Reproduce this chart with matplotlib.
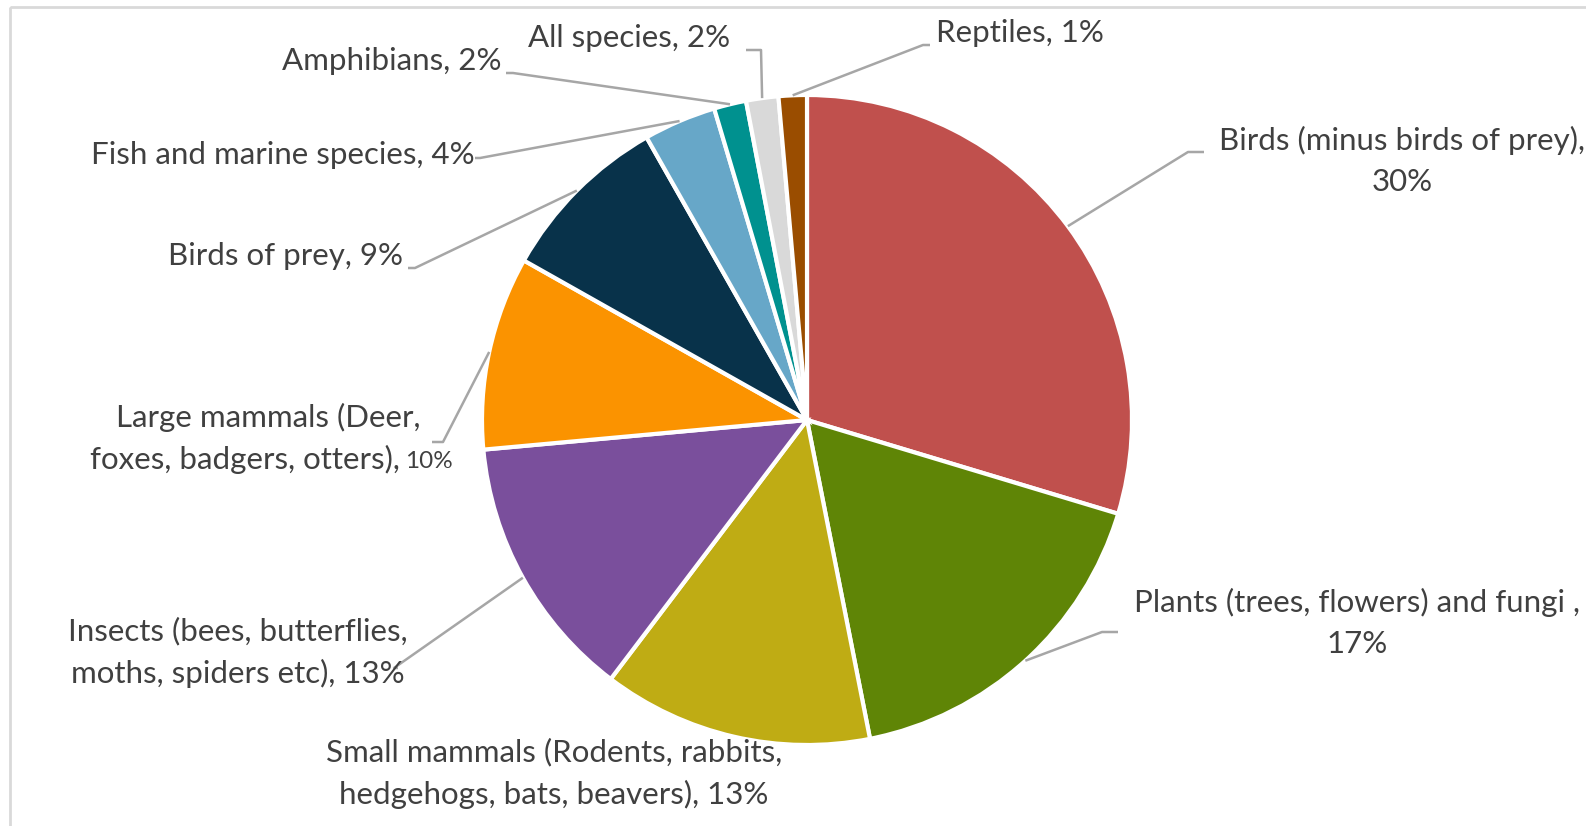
import numpy as np
import matplotlib
matplotlib.use('Agg')
from matplotlib import pyplot as plt
from matplotlib.patches import Rectangle

# data (share of records, %), clockwise from 12 o'clock
groups = ['Birds (minus birds of prey)', 'Plants (trees, flowers) and fungi ',
          'Small mammals (Rodents, rabbits, hedgehogs, bats, beavers)',
          'Insects (bees, butterflies, moths, spiders etc)',
          'Large mammals (Deer, foxes, badgers, otters)',
          'Birds of prey', 'Fish and marine species', 'Amphibians',
          'All species', 'Reptiles']
values = [29.6, 17.2, 13.4, 13.2, 9.6, 8.6, 3.6, 1.6, 1.6, 1.4]
colors = ['#C0504D', '#5F8506', '#BFAC14', '#7A4F9C', '#FB9300',
          '#08324A', '#67A7C8', '#00918F', '#D9D9D9', '#9A4D00']

# label text lines (where the name is wrapped in the chart)
label_lines = [
    ['Birds (minus birds of prey),', '{p}%'],
    ['Plants (trees, flowers) and fungi ,', '{p}%'],
    ['Small mammals (Rodents, rabbits,', 'hedgehogs, bats, beavers), {p}%'],
    ['Insects (bees, butterflies,', 'moths, spiders etc), {p}%'],
    ['Large mammals (Deer,'],
    ['Birds of prey, {p}%'],
    ['Fish and marine species, {p}%'],
    ['Amphibians, {p}%'],
    ['All species, {p}%'],
    ['Reptiles, {p}%'],
]

# layout (pixels): label anchor x, first line y, alignment, leader elbow points
lab_x = [1402, 1357, 554, 238, 268, 403, 475, 501, 730, 936]
lab_y = [140, 602, 752, 631, 417, 256, 155, 61, 38, 33]
lab_ha = ['center', 'center', 'center', 'center', 'center', 'right', 'right', 'right', 'right', 'left']
elbows = [[(1188, 152), (1204, 152)],
          [(1102, 632), (1118, 632)],
          None,
          [(394, 668), (398, 668)],
          [(443, 442), (432, 442)],
          [(415, 268), (408, 268)],
          [(480, 158), (475, 158)],
          [(513, 73), (506, 73)],
          [(761, 50), (746, 50)],
          [(923, 45), (930, 45)]]

W, H = 1586, 826
cx, cy, r = 807, 420, 325
txt = '#404040'
line_c = '#A6A6A6'
fs = 22.5

fig = plt.figure(figsize=(W / 100, H / 100), dpi=100)
ax = fig.add_axes([0, 0, 1, 1])
ax.set_xlim(0, W)
ax.set_ylim(H, 0)
ax.set_aspect('equal')
ax.axis('off')

# frame of the chart area (screenshot is cropped on the right and bottom)
ax.add_patch(Rectangle((10, 7), W + 50, H + 50, fill=False, ec='#D9D9D9', lw=2))

# y axis is inverted, so counterclock=True draws clockwise on screen
wedges, _ = ax.pie(values, colors=colors, startangle=-90, counterclock=True,
                   center=(cx, cy), radius=r, frame=True,
                   wedgeprops=dict(edgecolor='white', linewidth=3))
ax.set_xlim(0, W)
ax.set_ylim(H, 0)
ax.axis('off')

pcts = np.array(values) / sum(values) * 100
plt.rcParams['font.family'] = ['Lato', 'DejaVu Sans']
lh = 42
for i, w in enumerate(wedges):
    p = int(round(pcts[i]))
    lines = [s.format(p=p) for s in label_lines[i]]
    for k, s in enumerate(lines):
        ax.text(lab_x[i], lab_y[i] + k * lh, s, ha=lab_ha[i], va='center',
                fontsize=fs, color=txt, family='Lato')
    if i == 4:
        # second line of this label has a smaller percentage
        ax.text(400, lab_y[i] + lh, 'foxes, badgers, otters),', ha='right', va='center',
                fontsize=fs, color=txt, family='Lato')
        ax.text(405, lab_y[i] + lh + 2, '{}%'.format(p), ha='left', va='center',
                fontsize=fs - 5, color=txt, family='Lato')
    # leader line from the middle of the wedge edge
    if elbows[i] is not None:
        th = np.deg2rad((w.theta1 + w.theta2) / 2)
        x0 = cx + r * np.cos(th)
        y0 = cy + r * np.sin(th)
        xs = [x0] + [e[0] for e in elbows[i]]
        ys = [y0] + [e[1] for e in elbows[i]]
        ax.plot(xs, ys, color=line_c, lw=1.8, solid_capstyle='butt')

fig.savefig('out.png', dpi=100)
